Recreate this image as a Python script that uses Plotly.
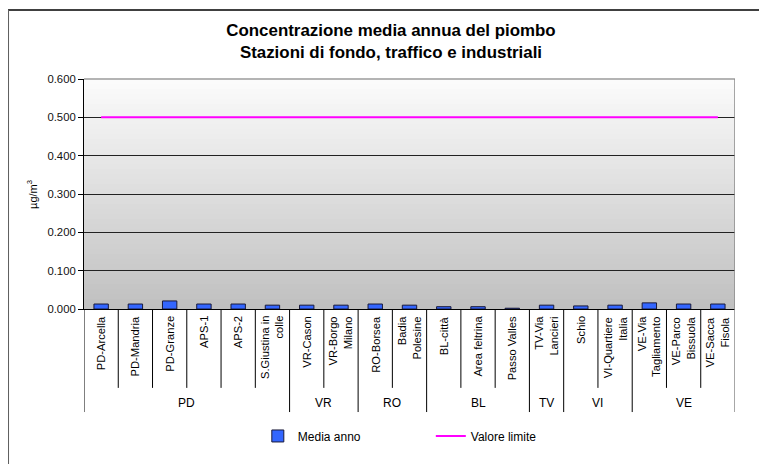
import plotly.graph_objects as go

categories = ["PD-Arcella", "PD-Mandria", "PD-Granze", "APS-1", "APS-2", "S.Giustina in<br>colle",
              "VR-Cason", "VR-Borgo<br>Milano", "RO-Borsea", "Badia<br>Polesine",
              "BL-città", "Area feltrina", "Passo Valles", "TV-Via<br>Lancieri",
              "Schio", "VI-Quartiere<br>Italia", "VE-Via<br>Tagliamento", "VE-Parco<br>Bissuola",
              "VE-Sacca<br>Fisola"]
groups = ["PD", "VR", "RO", "BL", "TV", "VI", "VE"]
group_sizes = [6, 2, 2, 3, 1, 2, 3]
media_anno = [0.013, 0.013, 0.021, 0.013, 0.013, 0.010, 0.010, 0.010, 0.013, 0.010,
              0.006, 0.006, 0.002, 0.010, 0.008, 0.010, 0.016, 0.013, 0.013]
valore_limite = [0.5] * len(categories)
y_ticks = [0.0, 0.1, 0.2, 0.3, 0.4, 0.5, 0.6]

FONT = "Liberation Sans, Arial, sans-serif"
xs = list(range(len(categories)))

fig = go.Figure()
fig.add_trace(go.Bar(x=xs, y=media_anno, name="Media anno", width=0.42,
                     marker=dict(color="#3366ff", line=dict(color="#1a1a3a", width=1))))
fig.add_trace(go.Scatter(x=xs, y=valore_limite, name="Valore limite", mode="lines",
                         line=dict(color="#ff00ff", width=2)))

shapes = []
# gradient background of plot area
n = 46
for i in range(n):
    t = (i + 0.5) / n
    c = int(192 + (252 - 192) * t)
    shapes.append(dict(type="rect", xref="paper", yref="paper", x0=0, x1=1,
                       y0=i / n, y1=(i + 1) / n, layer="below", line=dict(width=0),
                       fillcolor=f"rgb({c},{c},{c})"))
# top grey border of plot area
shapes.append(dict(type="line", xref="paper", yref="paper", x0=0, x1=1, y0=1, y1=1,
                   line=dict(color="#b4b4b4", width=2), layer="above"))

inner_bottom = -0.343
group_bottom = -0.448
bounds = [-0.5]
for s in group_sizes:
    bounds.append(bounds[-1] + s)
last = len(categories)
for k in range(last + 1):
    xb = k - 0.5
    is_group = xb in bounds
    if k == last:
        shapes.append(dict(type="line", xref="x", yref="paper", x0=xb, x1=xb, y0=1, y1=group_bottom,
                           line=dict(color="#8a8a8a", width=1.5), layer="above"))
    else:
        shapes.append(dict(type="line", xref="x", yref="paper", x0=xb, x1=xb, y0=0,
                           y1=group_bottom if is_group else inner_bottom,
                           line=dict(color="#000000", width=1)))
# outer frame of the chart
shapes.append(dict(type="line", xref="paper", yref="paper", x0=-0.1167, x1=1.2, y0=1.3, y1=1.3,
                   line=dict(color="#000000", width=1.5)))
shapes.append(dict(type="line", xref="paper", yref="paper", x0=-0.1167, x1=-0.1167, y0=1.3, y1=-0.75,
                   line=dict(color="#606060", width=2)))

annotations = []
for i, c in enumerate(categories):
    annotations.append(dict(text=c, x=i, xref="x", y=-0.022, yref="paper", textangle=-90,
                            xanchor="center", yanchor="top", align="right", showarrow=False,
                            font=dict(family=FONT, size=11.2, color="#000000")))
for g, a, b in zip(groups, bounds[:-1], bounds[1:]):
    annotations.append(dict(text=g, x=(a + b) / 2, xref="x", y=-0.41, yref="paper",
                            xanchor="center", yanchor="middle", showarrow=False,
                            font=dict(family=FONT, size=12, color="#000000")))
annotations.append(dict(text="µg/m<sup>3</sup>", x=-0.08, xref="paper", y=0.5, yref="paper",
                        textangle=-90, showarrow=False, xanchor="center", yanchor="middle",
                        font=dict(family=FONT, size=11, color="#000000")))

fig.update_layout(
    width=759, height=456,
    margin=dict(l=76, r=32, t=71, b=155),
    paper_bgcolor="white", plot_bgcolor="white",
    title=dict(text="<b>Concentrazione media annua del piombo<br>Stazioni di fondo, traffico e industriali</b>",
               x=0.5046, xref="container", y=0.9386, yref="container", xanchor="center", yanchor="top",
               font=dict(family=FONT, size=16.9, color="#000000")),
    xaxis=dict(range=[-0.5, len(categories) - 0.5], showticklabels=False, ticks="",
               showgrid=False, zeroline=False, showline=True, linecolor="#000000", linewidth=1),
    yaxis=dict(range=[0, 0.6], tickvals=y_ticks, tickformat=".3f", ticks="outside", ticklen=5,
               tickcolor="#000000", showgrid=True, gridcolor="#222222", gridwidth=1,
               zeroline=False, showline=True, linecolor="#000000", linewidth=1,
               tickfont=dict(family=FONT, size=11.3, color="#111111")),
    showlegend=True,
    legend=dict(orientation="h", x=0.267, xanchor="left", y=-0.552, yanchor="middle",
                entrywidth=128, entrywidthmode="pixels",
                font=dict(family=FONT, size=12, color="#000000")),
    shapes=shapes, annotations=annotations,
)

fig.write_html("out.html")
